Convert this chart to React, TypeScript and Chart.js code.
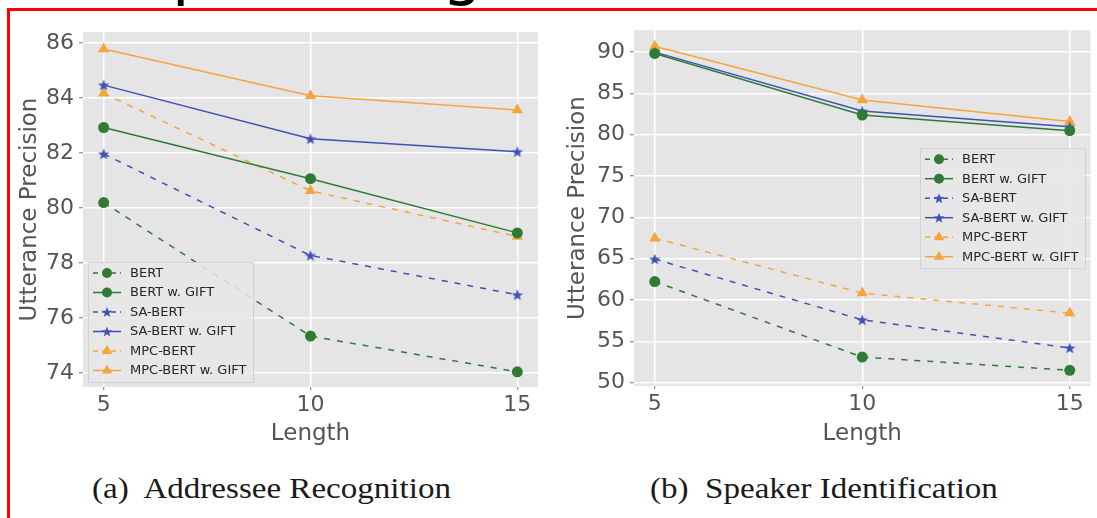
import React, { useEffect, useRef } from "react";
import { Chart, registerables } from "chart.js";

Chart.register(...registerables);

// ---------- data ----------
const lengths = [5, 10, 15];
const xTicks = [5, 10, 15];
const seriesNames = ["BERT", "BERT w. GIFT", "SA-BERT", "SA-BERT w. GIFT", "MPC-BERT", "MPC-BERT w. GIFT"];

// (a) Addressee Recognition
const arBert = [80.2, 75.35, 74.05];
const arBertGift = [82.93, 81.07, 79.1];
const arSaBert = [81.97, 78.28, 76.85];
const arSaBertGift = [84.47, 82.52, 82.05];
const arMpcBert = [84.17, 80.63, 78.97];
const arMpcBertGift = [85.78, 84.08, 83.57];
const arYTicks = [74, 76, 78, 80, 82, 84, 86];

// (b) Speaker Identification
const siBert = [62.24, 53.1, 51.5];
const siBertGift = [89.84, 82.39, 80.49];
const siSaBert = [64.95, 57.6, 54.2];
const siSaBertGift = [90.0, 82.87, 80.97];
const siMpcBert = [67.49, 60.84, 58.42];
const siMpcBertGift = [90.7, 84.2, 81.6];
const siYTicks = [50, 55, 60, 65, 70, 75, 80, 85, 90];

// ---------- styles ----------
const GREEN = "#2f7a34";
const BLUE = "#3f51b5";
const ORANGE = "#f5a53c";
const seriesColors = [GREEN, GREEN, BLUE, BLUE, ORANGE, ORANGE];
const seriesDashed = [true, false, true, false, true, false];
const seriesMarkers = ["circle", "circle", "star", "star", "triangle", "triangle"];
const TEXT_GRAY = "#555555";
const SANS = "'DejaVu Sans', sans-serif";

function makeStar(color: string, r: number): HTMLCanvasElement {
  const c = document.createElement("canvas");
  const s = Math.ceil(r * 2 + 2);
  c.width = s;
  c.height = s;
  const ctx = c.getContext("2d")!;
  ctx.fillStyle = color;
  ctx.beginPath();
  for (let i = 0; i < 10; i++) {
    const rad = i % 2 === 0 ? r : r * 0.42;
    const a = -Math.PI / 2 + (i * Math.PI) / 5;
    const px = s / 2 + rad * Math.cos(a);
    const py = s / 2 + rad * Math.sin(a) + 0.5;
    if (i === 0) ctx.moveTo(px, py);
    else ctx.lineTo(px, py);
  }
  ctx.closePath();
  ctx.fill();
  return c;
}

function drawMarker(ctx: CanvasRenderingContext2D, kind: string, x: number, y: number, color: string) {
  ctx.save();
  ctx.setLineDash([]);
  ctx.fillStyle = color;
  ctx.beginPath();
  if (kind === "circle") {
    ctx.arc(x, y, 5, 0, Math.PI * 2);
  } else if (kind === "triangle") {
    const r = 6;
    ctx.moveTo(x, y - r);
    ctx.lineTo(x + r * 0.866, y + r * 0.5);
    ctx.lineTo(x - r * 0.866, y + r * 0.5);
    ctx.closePath();
  } else {
    const r = 5.5;
    for (let i = 0; i < 10; i++) {
      const rad = i % 2 === 0 ? r : r * 0.42;
      const a = -Math.PI / 2 + (i * Math.PI) / 5;
      const px = x + rad * Math.cos(a);
      const py = y + rad * Math.sin(a) + 0.5;
      if (i === 0) ctx.moveTo(px, py);
      else ctx.lineTo(px, py);
    }
    ctx.closePath();
  }
  ctx.fill();
  ctx.restore();
}

const panelBgPlugin = {
  id: "panelBg",
  beforeDraw(chart: any) {
    const { ctx, chartArea } = chart;
    ctx.save();
    ctx.fillStyle = "#e5e5e5";
    ctx.fillRect(chartArea.left, chartArea.top, chartArea.right - chartArea.left, chartArea.bottom - chartArea.top);
    ctx.restore();
  },
};

const boxLegendPlugin = {
  id: "boxLegend",
  afterDatasetsDraw(chart: any, _args: any, opts: any) {
    const { ctx, chartArea } = chart;
    const bx = chartArea.left + opts.dx;
    const by = chartArea.top + opts.dy;
    const w = opts.width;
    const h = opts.height;
    ctx.save();
    ctx.fillStyle = "rgba(232,232,232,0.85)";
    ctx.strokeStyle = "#d2d2d2";
    ctx.lineWidth = 1;
    ctx.beginPath();
    ctx.rect(bx + 0.5, by + 0.5, w, h);
    ctx.fill();
    ctx.stroke();
    ctx.font = "13px 'DejaVu Sans', sans-serif";
    ctx.textBaseline = "middle";
    ctx.textAlign = "left";
    seriesNames.forEach((name, i) => {
      const y = by + 11 + i * 19.5;
      const color = seriesColors[i];
      ctx.strokeStyle = color;
      ctx.lineWidth = 1.5;
      ctx.setLineDash(seriesDashed[i] ? [5, 4] : []);
      ctx.beginPath();
      ctx.moveTo(bx + 5, y);
      ctx.lineTo(bx + 33, y);
      ctx.stroke();
      drawMarker(ctx, seriesMarkers[i], bx + 19, y, color);
      ctx.fillStyle = "#262626";
      ctx.fillText(name, bx + 42, y + 0.5);
    });
    ctx.restore();
  },
};

type PanelSpec = {
  values: number[][];
  yTicks: number[];
  yMin: number;
  yMax: number;
  yAxisWidth: number;
  xAxisHeight: number;
  padTop: number;
  padRight: number;
  yTitlePad: number;
  legend: { dx: number; dy: number; width: number; height: number };
};

function buildConfig(p: PanelSpec, star: (c: string) => HTMLCanvasElement) {
  const datasets = seriesNames.map((name, i) => {
    const kind = seriesMarkers[i];
    const color = seriesColors[i];
    return {
      label: name,
      data: lengths.map((x, j) => ({ x, y: p.values[i][j] })),
      borderColor: color,
      backgroundColor: color,
      borderWidth: 1.5,
      borderDash: seriesDashed[i] ? [6, 7] : [],
      pointStyle: kind === "star" ? star(color) : kind,
      pointRadius: kind === "circle" ? 5.5 : kind === "triangle" ? 6.5 : 6,
      pointBorderWidth: 0,
      pointBorderColor: color,
      tension: 0,
      fill: false,
    };
  });
  const tickFont = { family: SANS, size: 22 };
  const titleFont = { family: SANS, size: 23 };
  return {
    type: "line",
    data: { datasets },
    options: {
      animation: false,
      responsive: false,
      maintainAspectRatio: false,
      layout: { padding: { top: p.padTop, right: p.padRight, left: 0, bottom: 0 } },
      scales: {
        x: {
          type: "linear",
          min: 4.5,
          max: 15.5,
          afterBuildTicks: (a: any) => {
            a.ticks = xTicks.map((v) => ({ value: v }));
          },
          afterFit: (a: any) => {
            a.height = p.xAxisHeight;
          },
          grid: { color: "#ffffff", lineWidth: 1.5, tickColor: "#777", tickLength: 3, tickWidth: 1 },
          border: { display: false },
          ticks: { font: tickFont, color: TEXT_GRAY, padding: 2, autoSkip: false, maxRotation: 0 },
          title: { display: true, text: "Length", font: titleFont, color: TEXT_GRAY, padding: { top: 0, bottom: 4 } },
        },
        y: {
          type: "linear",
          min: p.yMin,
          max: p.yMax,
          afterBuildTicks: (a: any) => {
            a.ticks = p.yTicks.map((v) => ({ value: v }));
          },
          afterFit: (a: any) => {
            a.width = p.yAxisWidth;
          },
          grid: { color: "#ffffff", lineWidth: 1.5, tickColor: "#777", tickLength: 4, tickWidth: 1 },
          border: { display: false },
          ticks: { font: tickFont, color: TEXT_GRAY, padding: 5, autoSkip: false },
          title: {
            display: true,
            text: "Utterance Precision",
            font: titleFont,
            color: TEXT_GRAY,
            padding: { top: p.yTitlePad, bottom: 0 },
          },
        },
      },
      plugins: {
        legend: { display: false },
        tooltip: { enabled: false },
        boxLegend: p.legend,
      },
    },
    plugins: [panelBgPlugin, boxLegendPlugin],
  };
}

const panelA: PanelSpec = {
  values: [arBert, arBertGift, arSaBert, arSaBertGift, arMpcBert, arMpcBertGift],
  yTicks: arYTicks,
  yMin: 73.5,
  yMax: 86.4,
  yAxisWidth: 73,
  xAxisHeight: 65,
  padTop: 20,
  padRight: 12,
  yTitlePad: 6,
  legend: { dx: 5, dy: 230, width: 165, height: 120 },
};

const panelB: PanelSpec = {
  values: [siBert, siBertGift, siSaBert, siSaBertGift, siMpcBert, siMpcBertGift],
  yTicks: siYTicks,
  yMin: 49.6,
  yMax: 92.65,
  yAxisWidth: 74,
  xAxisHeight: 66,
  padTop: 18,
  padRight: 6,
  yTitlePad: 4,
  legend: { dx: 286, dy: 118, width: 165, height: 120 },
};

function Panel({ spec, left, top, width, height }: { spec: PanelSpec; left: number; top: number; width: number; height: number }) {
  const ref = useRef<HTMLCanvasElement | null>(null);
  useEffect(() => {
    if (!ref.current) return;
    const cache: Record<string, HTMLCanvasElement> = {};
    const star = (c: string) => (cache[c] = cache[c] || makeStar(c, 6));
    const chart = new Chart(ref.current, buildConfig(spec, star) as any);
    return () => chart.destroy();
  }, [spec]);
  return (
    <canvas
      ref={ref}
      width={width}
      height={height}
      style={{ position: "absolute", left, top, width, height }}
    />
  );
}

const captionStyle: React.CSSProperties = {
  position: "absolute",
  top: 470,
  fontFamily: "'Liberation Serif', 'Times New Roman', serif",
  fontSize: 29,
  color: "#1a1a1a",
  whiteSpace: "pre",
  lineHeight: "36px",
  transformOrigin: "left center",
  transform: "scaleX(1.14)",
};

export default function App() {
  return (
    <div style={{ position: "absolute", left: 0, top: 0, width: 1097, height: 518, background: "#fff", overflow: "hidden" }}>
      <span style={{ position: "absolute", left: 172, top: -61, fontFamily: SANS, fontSize: 64, lineHeight: 1, color: "#000" }}>p</span>
      <span style={{ position: "absolute", left: 442, top: -61, fontFamily: SANS, fontSize: 64, lineHeight: 1, color: "#000" }}>g</span>
      <div style={{ position: "absolute", left: 7, top: 8, width: 1200, height: 600, borderTop: "3px solid #ff0000", borderLeft: "3px solid #ff0000" }} />
      <Panel spec={panelA} left={10} top={12} width={540} height={440} />
      <Panel spec={panelB} left={560} top={12} width={537} height={440} />
      <div style={{ ...captionStyle, left: 92 }}>{"(a)  Addressee Recognition"}</div>
      <div style={{ ...captionStyle, left: 650 }}>{"(b)  Speaker Identification"}</div>
    </div>
  );
}
